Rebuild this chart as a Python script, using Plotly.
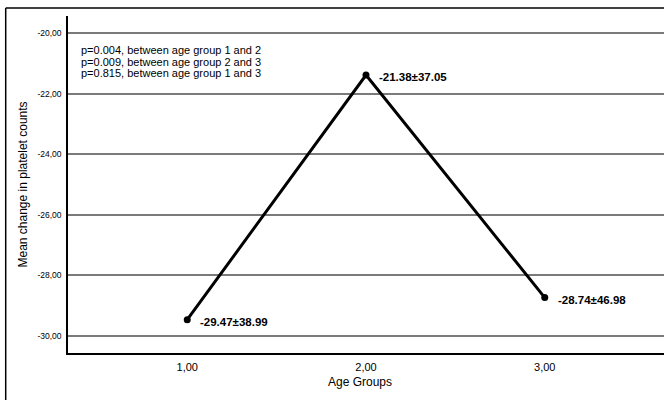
import plotly.graph_objects as go

age_groups = [1, 2, 3]
mean_change = [-29.47, -21.38, -28.74]
sd_change = [38.99, 37.05, 46.98]
y_ticks = [-30, -28, -26, -24, -22, -20]
y_tick_labels = ["-30,00", "-28,00", "-26,00", "-24,00", "-22,00", "-20,00"]
x_tick_labels = ["1,00", "2,00", "3,00"]
p_notes = [
    "p=0.004, between age group 1 and 2",
    "p=0.009, between age group 2 and 3",
    "p=0.815, between age group 1 and 3",
]

fig = go.Figure()
fig.add_trace(go.Scatter(
    x=age_groups, y=mean_change, mode="lines+markers",
    line=dict(color="black", width=3),
    marker=dict(color="black", size=7),
    hoverinfo="skip", showlegend=False,
))

annotations = []
for xv, yv, sd in zip(age_groups, mean_change, sd_change):
    annotations.append(dict(
        x=xv, y=yv, xref="x", yref="y", text=f"{yv:.2f}±{sd:.2f}",
        showarrow=False, xanchor="left", yanchor="middle", xshift=11, yshift=-2,
        font=dict(family="Liberation Sans", size=11.5, color="black", weight="bold"),
    ))

plot_top, plot_bottom, plot_left, plot_w = 16, 353, 68, 596
plot_h = plot_bottom - plot_top

def py(pix):
    return (plot_bottom - pix) / plot_h

def px(pix):
    return (pix - plot_left) / plot_w

for i, note in enumerate(p_notes):
    annotations.append(dict(
        x=px(79), y=py(50 + i * 11.5), xref="paper", yref="paper", text=note,
        showarrow=False, xanchor="left", yanchor="middle",
        font=dict(family="Liberation Sans", size=11, color="black"),
    ))

annotations.append(dict(
    x=px(22), y=0.5, xref="paper", yref="paper", text="Mean change in platelet counts",
    showarrow=False, textangle=-90, xanchor="center", yanchor="middle",
    font=dict(family="Liberation Sans", size=12, color="black"),
))
annotations.append(dict(
    x=px(360), y=py(382), xref="paper", yref="paper", text="Age Groups",
    showarrow=False, xanchor="center", yanchor="middle",
    font=dict(family="Liberation Sans", size=12, color="black"),
))

shapes = [
    dict(type="line", xref="paper", yref="paper", x0=px(5.7), x1=px(5.7), y0=py(420), y1=py(8),
         line=dict(color="black", width=1.5)),
    dict(type="line", xref="paper", yref="paper", x0=px(5.7), x1=px(700), y0=py(8), y1=py(8),
         line=dict(color="black", width=1.5)),
]

fig.update_layout(
    width=664, height=400,
    margin=dict(l=plot_left, r=0, t=plot_top, b=400 - plot_bottom),
    paper_bgcolor="white", plot_bgcolor="white",
    annotations=annotations, shapes=shapes,
    xaxis=dict(
        range=[0.333, 3.667], tickvals=age_groups, ticktext=x_tick_labels,
        showgrid=False, zeroline=False, showline=True, linecolor="black", linewidth=1.5,
        ticks="outside", ticklen=3, tickcolor="rgba(0,0,0,0)",
        tickfont=dict(family="Liberation Sans", size=11, color="black"),
    ),
    yaxis=dict(
        range=[-30.572, -19.428], tickvals=y_ticks, ticktext=y_tick_labels,
        showgrid=True, gridcolor="#7a7a7a", gridwidth=1.5, zeroline=False,
        showline=True, linecolor="black", linewidth=1.5,
        ticks="outside", ticklen=3, tickcolor="rgba(0,0,0,0)",
        tickfont=dict(family="Liberation Sans", size=8.5, color="black"),
    ),
)

fig.write_html(
    "out.html",
    config={"displayModeBar": False},
    post_script="document.body.style.margin='0';document.body.style.overflow='hidden';",
)
